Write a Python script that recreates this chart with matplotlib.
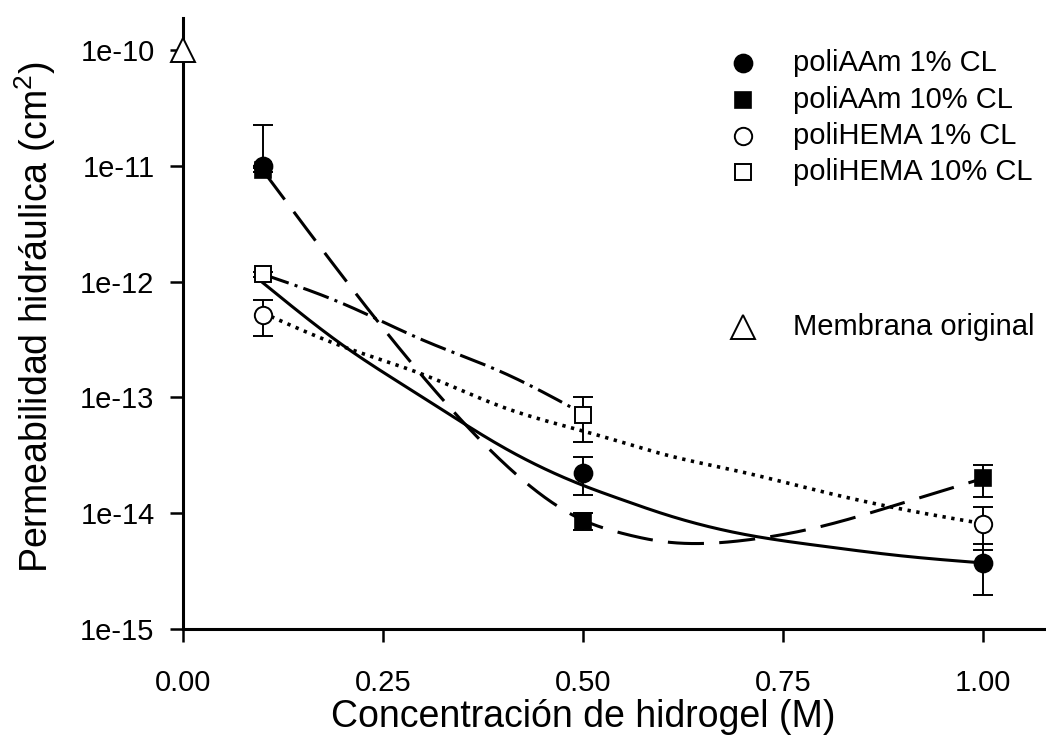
import numpy as np
import matplotlib
matplotlib.use("Agg")
import matplotlib.pyplot as plt
from matplotlib.lines import Line2D

plt.rcParams['font.family'] = ['Liberation Sans', 'DejaVu Sans']
plt.rcParams['mathtext.fontset'] = 'custom'
plt.rcParams['mathtext.rm'] = 'Liberation Sans'
plt.rcParams['mathtext.it'] = 'Liberation Sans:italic'
plt.rcParams['lines.scale_dashes'] = False

# ---------------- data ----------------
conc = [0.1, 0.5, 1.0]

aam1_y = [1.0e-11, 2.24e-14, 3.69e-15]
aam1_err = [1.25e-11, 0.81e-14, 1.72e-15]

aam10_y = [9.3e-12, 8.6e-15, 2.0e-14]
aam10_err = [0.4e-12, 1.5e-15, 0.62e-14]

hema1_y = [5.2e-13, np.nan, 8.07e-15]
hema1_err = [1.8e-13, np.nan, 3.3e-15]

hema10_y = [1.16e-12, 7.05e-14, np.nan]
hema10_err = [0.05e-12, 2.95e-14, np.nan]

membrana_x = [0.0]
membrana_y = [1.0e-10]

# fitted curves
curve_x = [0.1, 0.2, 0.3, 0.4, 0.5, 0.55, 0.6, 0.7, 0.8, 0.9, 1.0]
curve_aam10 = [9.12e-12, 1.10e-12, 1.51e-13, 2.75e-14, 8.71e-15, 6.68e-15,
               5.69e-15, 5.82e-15, 7.76e-15, 1.23e-14, 2.0e-14]
curve_aam1 = [9.77e-13, 2.82e-13, 1.0e-13, 3.72e-14, 1.74e-14, 1.30e-14,
              9.9e-15, 6.6e-15, 5.19e-15, 4.27e-15, 3.72e-15]
curve_hema1 = [5.37e-13, 2.75e-13, 1.58e-13, 8.24e-14, 5.13e-14, 4.08e-14,
               3.24e-14, 2.26e-14, 1.53e-14, 1.08e-14, 8.13e-15]
curve_hema10_x = [0.1, 0.2, 0.3, 0.4, 0.5]
curve_hema10 = [1.16e-12, 6.46e-13, 3.13e-13, 1.64e-13, 7.24e-14]

labels = ['poliAAm 1% CL', 'poliAAm 10% CL', 'poliHEMA 1% CL', 'poliHEMA 10% CL']
membrana_label = 'Membrana original'
xticks = [0.0, 0.25, 0.5, 0.75, 1.0]
xticklabels = ['0.00', '0.25', '0.50', '0.75', '1.00']
yticks = [1e-15, 1e-14, 1e-13, 1e-12, 1e-11, 1e-10]
yticklabels = ['1e-15', '1e-14', '1e-13', '1e-12', '1e-11', '1e-10']


def natural_spline(x, y, xs):
    x = np.asarray(x, float)
    y = np.asarray(y, float)
    n = len(x)
    h = np.diff(x)
    A = np.zeros((n, n))
    b = np.zeros(n)
    A[0, 0] = A[-1, -1] = 1.0
    for i in range(1, n - 1):
        A[i, i - 1] = h[i - 1]
        A[i, i] = 2 * (h[i - 1] + h[i])
        A[i, i + 1] = h[i]
        b[i] = 6 * ((y[i + 1] - y[i]) / h[i] - (y[i] - y[i - 1]) / h[i - 1])
    M = np.linalg.solve(A, b)
    idx = np.clip(np.searchsorted(x, xs) - 1, 0, n - 2)
    x0, x1 = x[idx], x[idx + 1]
    hh = x1 - x0
    return (M[idx] * (x1 - xs) ** 3 / (6 * hh) + M[idx + 1] * (xs - x0) ** 3 / (6 * hh)
            + (y[idx] / hh - M[idx] * hh / 6) * (x1 - xs)
            + (y[idx + 1] / hh - M[idx + 1] * hh / 6) * (xs - x0))


def smooth(xs_pts, ys_pts):
    xs = np.linspace(xs_pts[0], xs_pts[-1], 300)
    ly = natural_spline(xs_pts, np.log10(ys_pts), xs)
    return xs, 10 ** ly


fig = plt.figure(figsize=(10.46, 7.53), dpi=100)
ax = fig.add_axes([0.175, 0.1647, 0.826, 0.8114])
ax.set_yscale('log')

lw = 2.2
# curves
xs, ys = smooth(curve_x, curve_aam1)
ax.plot(xs, ys, color='black', lw=lw, ls='-', zorder=2)
xs, ys = smooth(curve_x, curve_aam10)
ax.plot(xs, ys, color='black', lw=lw, ls=(0, (26, 11)), zorder=2)
xs, ys = smooth(curve_x, curve_hema1)
ax.plot(xs, ys, color='black', lw=2.6, ls=(0, (2.4, 4.0)), zorder=2)
xs, ys = smooth(curve_hema10_x, curve_hema10)
ax.plot(xs, ys, color='black', lw=lw, ls=(0, (19.5, 4.5, 2.2, 4.5)), zorder=2)


def err_bars(y, e):
    y = np.asarray(y, float)
    e = np.asarray(e, float)
    lower = np.where(e < y, e, 0.0)
    return [lower, e]


ekw = dict(fmt='none', ecolor='black', elinewidth=1.4, capsize=7, capthick=1.4, zorder=3)
ax.errorbar(conc, aam1_y, yerr=err_bars(aam1_y, aam1_err), **ekw)
ax.errorbar(conc, aam10_y, yerr=err_bars(aam10_y, aam10_err), **ekw)
ax.errorbar(conc, hema1_y, yerr=err_bars(hema1_y, hema1_err), **ekw)
ax.errorbar(conc, hema10_y, yerr=err_bars(hema10_y, hema10_err), **ekw)

mk = [dict(marker='o', ms=13, mfc='black', mec='black', mew=1.2),
      dict(marker='s', ms=11.5, mfc='black', mec='black', mew=1.2),
      dict(marker='o', ms=12.5, mfc='white', mec='black', mew=1.4),
      dict(marker='s', ms=11.5, mfc='white', mec='black', mew=1.4)]
ax.plot(conc, aam10_y, ls='none', zorder=4, **mk[1])
ax.plot(conc, aam1_y, ls='none', zorder=4, **mk[0])
ax.plot(conc, hema1_y, ls='none', zorder=4, **mk[2])
ax.plot(conc, hema10_y, ls='none', zorder=4, **mk[3])
tri = dict(marker='^', ms=17, mfc='white', mec='black', mew=1.4)
ax.plot(membrana_x, membrana_y, ls='none', zorder=5, clip_on=False, **tri)

# axes styling
ax.set_xlim(0, 1.08)
ax.set_ylim(1e-15, 1.9e-10)
ax.spines['top'].set_visible(False)
ax.spines['right'].set_visible(False)
for s in ('left', 'bottom'):
    ax.spines[s].set_linewidth(2.2)
ax.set_xticks(xticks)
ax.set_xticklabels(xticklabels)
ax.set_yticks(yticks)
ax.set_yticklabels(yticklabels)
ax.minorticks_off()
ax.yaxis.set_minor_locator(matplotlib.ticker.NullLocator())
ax.tick_params(axis='both', which='major', direction='out', length=9.5, width=1.8,
               labelsize=21, color='black')
ax.tick_params(axis='x', pad=19)
ax.tick_params(axis='y', pad=11)

ax.set_xlabel('Concentración de hidrogel (M)', fontsize=27)
ax.xaxis.set_label_coords(0.4635, -0.1440)
ax.xaxis.label.set_va('center')
ax.set_ylabel('Permeabilidad hidráulica (cm$^2$)', fontsize=27)
ax.yaxis.set_label_coords(-0.1715, 0.51)
ax.yaxis.label.set_va('center')

# legend drawn as figure-positioned entries
leg_x_marker = 743 / 1046
leg_x_text = 793 / 1046
rows = [63, 100, 136, 172]
for lab, style, r in zip(labels, mk, rows):
    yf = 1 - r / 753
    fig.add_artist(Line2D([leg_x_marker], [yf], ls='none', transform=fig.transFigure, **style))
    fig.text(leg_x_text, yf, lab, fontsize=21, va='center', ha='left')
yf = 1 - 327 / 753
fig.add_artist(Line2D([leg_x_marker], [yf], ls='none', transform=fig.transFigure, **tri))
fig.text(leg_x_text, yf, membrana_label, fontsize=21, va='center', ha='left')

fig.savefig('out.png', dpi=100)
